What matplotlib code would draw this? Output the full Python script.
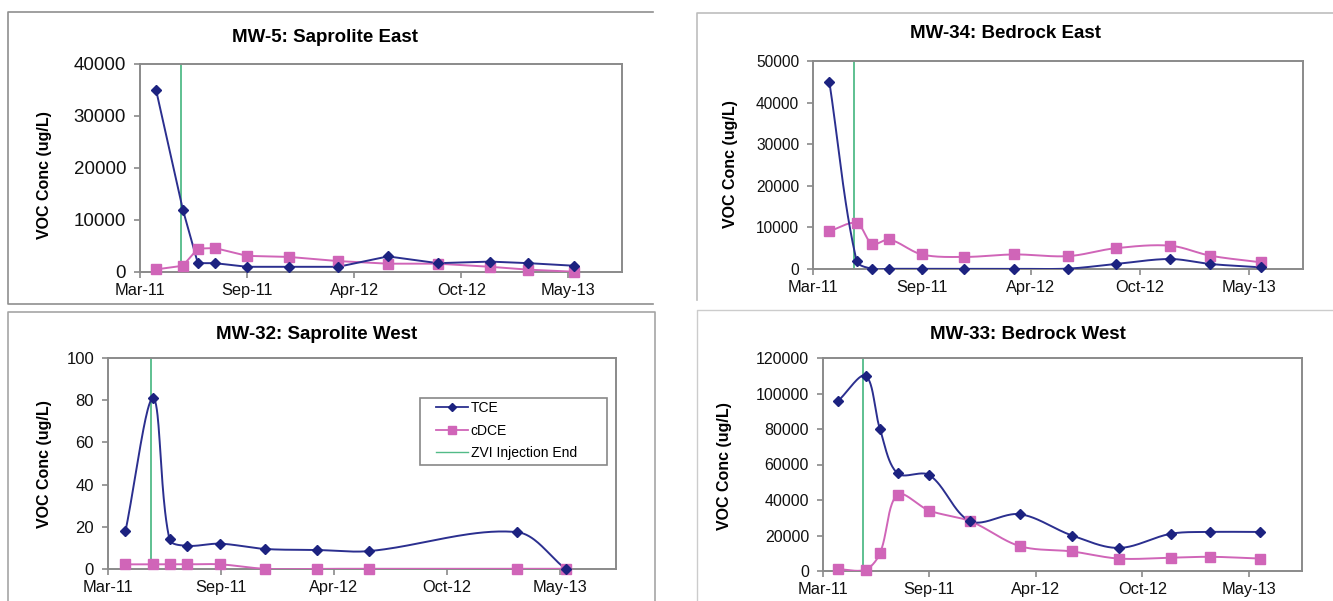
import numpy as np
import pandas as pd
import matplotlib
matplotlib.use("Agg")
import matplotlib.pyplot as plt
import matplotlib.dates as mdates
from matplotlib.lines import Line2D
from matplotlib.patches import Rectangle

plt.rcParams['font.family'] = ['Liberation Sans', 'DejaVu Sans']

W, H = 1333, 601

# x axis (Excel date axis, major unit 200 days)
X_START = '2011-03-01'
X_END = '2013-08-17'
X_TICKS = ['2011-03-01', '2011-09-17', '2012-04-04', '2012-10-21', '2013-05-09']
X_TICK_LABELS = ['Mar-11', 'Sep-11', 'Apr-12', 'Oct-12', 'May-13']
ZVI_END = '2011-05-16'

# MW-5: Saprolite East
mw5_dates = ['2011-03-31', '2011-05-20', '2011-06-17', '2011-07-19', '2011-09-17', '2011-12-04',
             '2012-03-05', '2012-06-06', '2012-09-07', '2012-12-14', '2013-02-23', '2013-05-20']
mw5_tce = [35000, 12000, 1700, 1700, 1000, 1000, 1000, 3000, 1700, 2000, 1700, 1200]
mw5_cdce = [500, 1200, 4500, 4600, 3100, 2900, 2100, 1600, 1600, 1000, 450, 50]

# MW-34: Bedrock East
mw34_dates = ['2011-03-31', '2011-05-20', '2011-06-18', '2011-07-19', '2011-09-17', '2011-12-04',
              '2012-03-05', '2012-06-12', '2012-09-07', '2012-12-16', '2013-02-28', '2013-06-01']
mw34_tce = [45000, 2000, 50, 50, 50, 50, 50, 100, 1200, 2400, 1200, 400]
mw34_cdce = [9100, 11000, 6000, 7100, 3500, 2900, 3500, 3100, 5000, 5600, 3200, 1600]

# MW-32: Saprolite West
mw32_dates = ['2011-04-01', '2011-05-20', '2011-06-18', '2011-07-19', '2011-09-16', '2011-12-04',
              '2012-03-06', '2012-06-06', '2013-02-22', '2013-05-20']
mw32_tce = [18, 81, 14, 11, 12, 9.5, 9, 8.5, 17.5, 0]
mw32_cdce = [2.2, 2.2, 2.2, 2.2, 2.2, 0.1, 0.1, 0.1, 0.1, 0.1]

# MW-33: Bedrock West
mw33_dates = ['2011-03-30', '2011-05-20', '2011-06-16', '2011-07-19', '2011-09-17', '2011-12-03',
              '2012-03-05', '2012-06-11', '2012-09-07', '2012-12-14', '2013-02-26', '2013-05-31']
mw33_tce = [96000, 110000, 80000, 55000, 54000, 28000, 32000, 20000, 13000, 21000, 22000, 22000]
mw33_cdce = [1000, 800, 10000, 43000, 34000, 28000, 14000, 11000, 7000, 7500, 8000, 7000]

TCE_COLOR = '#2b2f8f'
TCE_MARK = '#1c2280'
CDCE_COLOR = '#d065b8'
ZVI_COLOR = '#52bb88'
SPINE = '#8a8a8a'


def to_num(dates):
    return mdates.date2num(pd.to_datetime(dates))


def smooth(x, y, sx, sy, n=40):
    # Excel style smoothed line: bezier segments, handles scaled by segment length (screen space)
    P = np.column_stack([np.asarray(x, float) * sx, np.asarray(y, float) * sy])
    P = np.vstack([P[:1], P, P[-1:]])
    t = np.linspace(0, 1, n)[:, None]
    out = []
    for i in range(1, len(P) - 2):
        p0, p3 = P[i], P[i + 1]
        d_prev = np.linalg.norm(P[i] - P[i - 1])
        d = np.linalg.norm(p3 - p0)
        d_next = np.linalg.norm(P[i + 2] - P[i + 1])
        p1 = p0 + (P[i + 1] - P[i - 1]) * d / (3 * (d_prev + d)) if d_prev + d > 0 else p0
        p2 = p3 - (P[i + 2] - P[i]) * d / (3 * (d + d_next)) if d + d_next > 0 else p3
        b = (1 - t) ** 3 * p0 + 3 * (1 - t) ** 2 * t * p1 + 3 * (1 - t) * t ** 2 * p2 + t ** 3 * p3
        out.append(b)
    out = np.vstack(out)
    return out[:, 0] / sx, out[:, 1] / sy


def px_axes(fig, box):
    left, top, right, bottom = box
    return fig.add_axes([left / W, 1 - bottom / H, (right - left) / W, (bottom - top) / H])


def draw_panel(ax, box, dates, tce, cdce, ymax, ystep, smoothed, ytick_size=11.5):
    x = to_num(dates)
    x0, x1 = to_num([X_START, X_END])
    sx = (box[2] - box[0]) / (x1 - x0)
    sy = (box[3] - box[1]) / ymax
    for vals, col, mk, mc, ms in [(cdce, CDCE_COLOR, 's', CDCE_COLOR, 6.6),
                                  (tce, TCE_COLOR, 'D', TCE_MARK, 5.0)]:
        if smoothed:
            lx, ly = smooth(x, vals, sx, sy)
        else:
            lx, ly = x, vals
        ax.plot(lx, ly, color=col, lw=1.4, zorder=3)
        ax.plot(x, vals, linestyle='none', marker=mk, ms=ms, color=mc,
                markeredgecolor=mc, zorder=4, clip_on=False)
    ax.axvline(to_num([ZVI_END])[0], color=ZVI_COLOR, lw=1.3, zorder=2)
    ax.set_xlim(x0, x1)
    ax.set_ylim(0, ymax)
    ax.set_xticks(to_num(X_TICKS))
    ax.set_xticklabels(X_TICK_LABELS, fontsize=11.8)
    yt = np.arange(0, ymax + 1, ystep)
    ax.set_yticks(yt)
    ax.set_yticklabels([f'{int(v)}' for v in yt], fontsize=ytick_size)
    for s in ax.spines.values():
        s.set_color(SPINE)
        s.set_linewidth(1.4)
    ax.tick_params(direction='out', length=4, width=1.2, color=SPINE, labelcolor='#111111')
    ax.tick_params(axis='y', pad=6)
    ax.tick_params(axis='x', pad=4)


fig = plt.figure(figsize=(W / 100, H / 100), dpi=100)
fig.patch.set_facecolor('white')

# chart area frames
bg = fig.add_axes([0, 0, 1, 1], zorder=-5)
bg.set_xlim(0, W)
bg.set_ylim(H, 0)
bg.axis('off')
bg.plot([653, 8, 8, 653], [12, 12, 304, 304], color='#8f8f8f', lw=1.2)
bg.plot([8, 8, 655, 655], [601, 312, 312, 601], color='#a5a5a5', lw=1.2)
bg.plot([697, 697, 1333], [300, 13, 13], color='#bdbdbd', lw=1.2)
bg.plot([697, 697, 1333], [601, 310, 310], color='#cccccc', lw=1.0)

box1 = (140, 64, 622, 272)
box2 = (813, 61, 1303, 269)
box3 = (108, 358, 616, 569)
box4 = (823, 358, 1302, 571)

ax1 = px_axes(fig, box1)
draw_panel(ax1, box1, mw5_dates, mw5_tce, mw5_cdce, 40000, 10000, False, ytick_size=13.5)
ax2 = px_axes(fig, box2)
draw_panel(ax2, box2, mw34_dates, mw34_tce, mw34_cdce, 50000, 10000, True, ytick_size=11.2)
ax3 = px_axes(fig, box3)
draw_panel(ax3, box3, mw32_dates, mw32_tce, mw32_cdce, 100, 20, True, ytick_size=12)
ax4 = px_axes(fig, box4)
draw_panel(ax4, box4, mw33_dates, mw33_tce, mw33_cdce, 120000, 20000, True, ytick_size=11.5)

titles = [('MW-5: Saprolite East', 325, 38), ('MW-34: Bedrock East', 1006, 33),
          ('MW-32: Saprolite West', 317, 335), ('MW-33: Bedrock West', 1028, 335)]
for t, x, y in titles:
    fig.text(x / W, 1 - y / H, t, ha='center', va='center', fontsize=13.5, fontweight='bold')

for x, y in [(44, 175), (730, 164), (44, 464), (725, 466)]:
    fig.text(x / W, 1 - y / H, 'VOC Conc (ug/L)', rotation=90, ha='center', va='center',
             fontsize=11.5, fontweight='bold')

# legend box (MW-32 panel)
ax3.add_patch(Rectangle((420 / W, 1 - 465 / H), 187 / W, 67 / H, transform=fig.transFigure,
                        facecolor='white', edgecolor='#888888', lw=1.2, zorder=6, clip_on=False))
handles = [Line2D([], [], color=TCE_COLOR, marker='D', ms=4.3, markerfacecolor=TCE_MARK,
                  markeredgecolor=TCE_MARK, lw=1.3),
           Line2D([], [], color=CDCE_COLOR, marker='s', ms=5.8, lw=1.3),
           Line2D([], [], color=ZVI_COLOR, lw=1.0)]
leg = ax3.legend(handles, ['TCE', 'cDCE', 'ZVI Injection End'], loc='upper left',
                 bbox_to_anchor=(436 / W, 1 - 401 / H), bbox_transform=fig.transFigure,
                 fontsize=10, frameon=False, borderaxespad=0, borderpad=0,
                 handlelength=2.3, handletextpad=0.2, labelspacing=0.62, numpoints=1)
leg.set_zorder(7)

fig.savefig('out.png', dpi=100)
